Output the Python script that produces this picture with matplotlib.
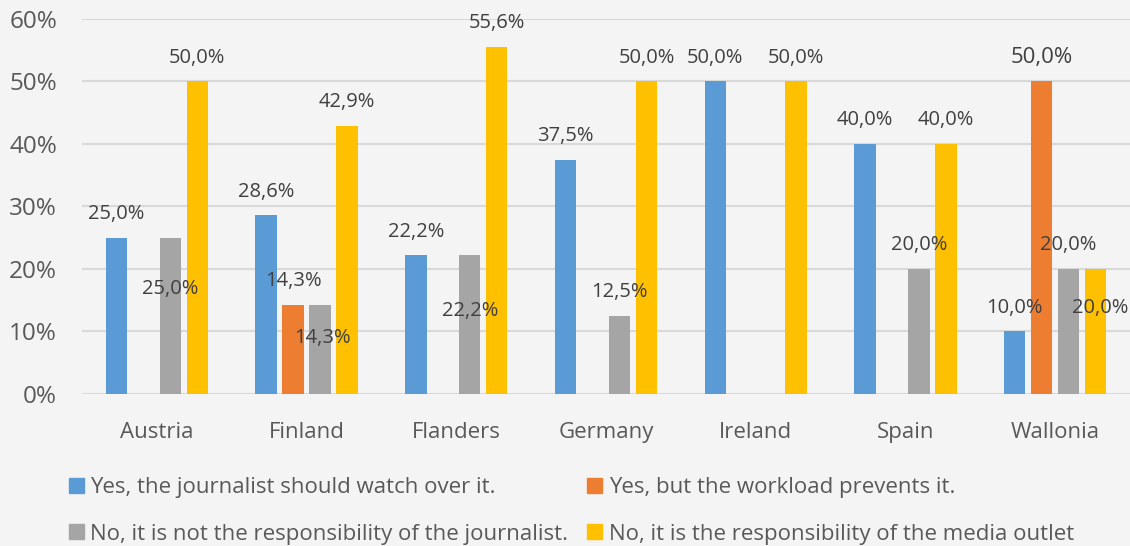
import numpy as np
import matplotlib.pyplot as plt
from matplotlib.patches import Patch

plt.rcParams['font.family'] = ['Open Sans', 'DejaVu Sans']

countries = ["Austria", "Finland", "Flanders", "Germany", "Ireland", "Spain", "Wallonia"]
series_names = [
    "Yes, the journalist should watch over it.",
    "Yes, but the workload prevents it.",
    "No, it is not the responsibility of the journalist.",
    "No, it is the responsibility of the media outlet",
]
watch_over = [25.0, 28.6, 22.2, 37.5, 50.0, 40.0, 10.0]
workload = [np.nan, 14.3, np.nan, np.nan, np.nan, np.nan, 50.0]
not_journalist = [25.0, 14.3, 22.2, 12.5, np.nan, 20.0, 20.0]
media_outlet = [50.0, 42.9, 55.6, 50.0, 50.0, 40.0, 20.0]
colors = ["#5B9BD5", "#ED7D31", "#A5A5A5", "#FFC000"]

# labels that were dragged down onto their bar (series, category) -> y offset in pt
label_shift = {(2, 0): -37, (2, 1): -24, (2, 2): -40, (3, 6): -28}
label_dx = {(2, 1): 2, (3, 6): 3}
label_size = {(1, 6): 16}

bg = "#F4F4F4"
fig = plt.figure(figsize=(11.3, 5.46), dpi=100, facecolor=bg)
ax = fig.add_axes([0.0726, 0.2784, 0.9274, 0.6868], facecolor=bg)

x = np.arange(len(countries))
width = 0.143
step = 0.18
all_series = [watch_over, workload, not_journalist, media_outlet]
for i, vals in enumerate(all_series):
    v = np.array(vals, dtype=float)
    pos = x + (i - 1.5) * step
    ax.bar(pos, np.nan_to_num(v) / 100, width, color=colors[i], zorder=3)
    for j, val in enumerate(v):
        if np.isnan(val):
            continue
        dy = label_shift.get((i, j), 17)
        dx = label_dx.get((i, j), 0)
        ax.annotate(f"{val:.1f}%".replace(".", ","), (pos[j], val / 100),
                    xytext=(dx, dy), textcoords="offset points",
                    ha="center", va="center", color="#404040",
                    fontsize=label_size.get((i, j), 14.5), zorder=4)

ax.set_xlim(-0.5, 6.5)
ax.set_ylim(0, 0.6)
ax.set_yticks(np.arange(0, 0.61, 0.1))
ax.set_yticklabels([f"{int(t)}%" for t in range(0, 61, 10)])
ax.set_xticks(x)
ax.set_xticklabels(countries)
ax.tick_params(axis="both", length=0, colors="#595959")
ax.tick_params(axis="y", pad=18, labelsize=17.5)
ax.tick_params(axis="x", pad=20, labelsize=16)
ax.yaxis.grid(True, color="#D9D9D9", linewidth=1.5, zorder=0)
for s in ax.spines.values():
    s.set_visible(False)

handles = [Patch(color=colors[k]) for k in (0, 2, 1, 3)]
labels = [series_names[k] for k in (0, 2, 1, 3)]
fig.legend(handles, labels, ncol=2, loc="lower left", bbox_to_anchor=(0.043, -0.034),
           frameon=False, fontsize=16, labelcolor="#595959",
           handlelength=0.68, handleheight=0.68, handletextpad=0.3,
           columnspacing=0.85, labelspacing=1.13)

fig.savefig("out.png", dpi=100, facecolor=bg)
